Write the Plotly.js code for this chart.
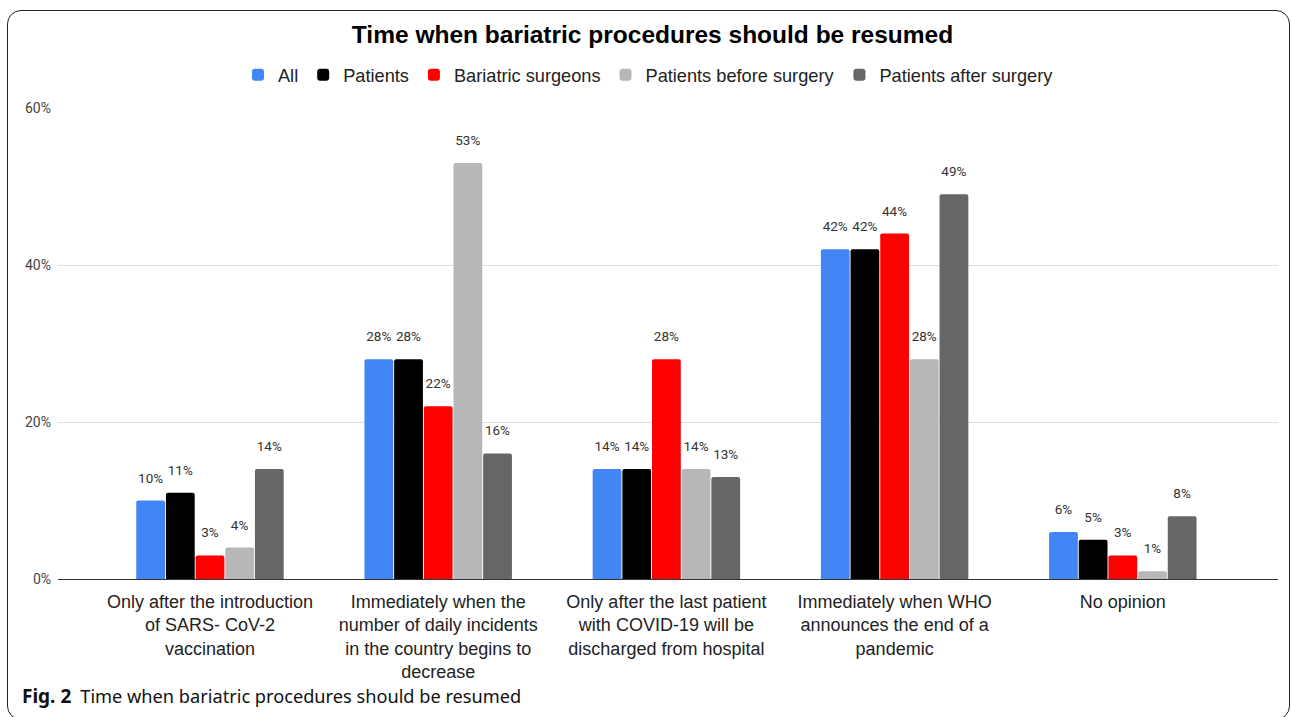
<!DOCTYPE html>
<html>
<head>
<meta charset="utf-8">
<script src="https://cdn.plot.ly/plotly-3.0.1.min.js"></script>
<style>
  html, body { margin:0; padding:0; background:#fff; width:1292px; height:717px; overflow:hidden; }
  #chart { position:absolute; left:0; top:0; width:1292px; height:717px; }
  #frame { position:absolute; left:7px; top:10px; width:1281px; height:708px; border:1px solid #222; border-radius:14px; pointer-events:none; }
  #caption { position:absolute; left:22px; top:686px; line-height:20px; font-family:"Noto Sans","Open Sans",sans-serif; font-size:18.2px; color:#111; white-space:nowrap; }
  #caption b { font-weight:700; font-size:19px; margin-right:9px; }
</style>
</head>
<body>
<div id="chart"></div>
<div id="frame"></div>
<div id="caption"><b>Fig. 2</b>Time when bariatric procedures should be resumed</div>
<script>
const categories = [
  "Only after the introduction<br>of SARS- CoV-2<br>vaccination",
  "Immediately when the<br>number of daily incidents<br>in the country begins to<br>decrease",
  "Only after the last patient<br>with COVID-19 will be<br>discharged from hospital",
  "Immediately when WHO<br>announces the end of a<br>pandemic",
  "No opinion"
];
const seriesNames = ["All", "Patients", "Bariatric surgeons", "Patients before surgery", "Patients after surgery"];
const allValues = [10, 28, 14, 42, 6];
const patientsValues = [11, 28, 14, 42, 5];
const surgeonsValues = [3, 22, 28, 44, 3];
const beforeSurgeryValues = [4, 53, 14, 28, 1];
const afterSurgeryValues = [14, 16, 13, 49, 8];
const yTickValues = [0, 20, 40, 60];
const yTickLabels = ["0%", "20%", "40%", "60%"];

const seriesValues = [allValues, patientsValues, surgeonsValues, beforeSurgeryValues, afterSurgeryValues];
const colors = ["#4285F4", "#000000", "#FF0000", "#B7B7B7", "#666666"];

const traces = seriesNames.map((name, i) => ({
  type: "bar",
  name: name,
  x: categories,
  y: seriesValues[i],
  marker: { color: colors[i], cornerradius: 2 },
  text: seriesValues[i].map(v => "<span style='font-size:13.5px'>" + v + "%</span><br> "),
  textposition: "outside",
  constraintext: "none",
  textfont: { family: "Roboto, Arial, sans-serif", size: 10, color: "#333" },
  cliponaxis: false,
  hoverinfo: "skip"
}));

const layout = {
  width: 1292,
  height: 717,
  margin: { l: 58, r: 14, t: 108, b: 138 },
  paper_bgcolor: "#fff",
  plot_bgcolor: "#fff",
  barmode: "group",
  bargap: 0.35,
  bargroupgap: 0.03,
  font: { family: "Liberation Sans, Arial, sans-serif", color: "#222" },
  title: {
    text: "<b>Time when bariatric procedures should be resumed</b>",
    font: { family: "Liberation Sans, Arial, sans-serif", size: 24.5, color: "#000" },
    xref: "container", x: 652.5 / 1292, xanchor: "center",
    yref: "container", y: 1 - 34 / 717, yanchor: "middle"
  },
  legend: {
    orientation: "h",
    x: 0.484, xanchor: "center",
    yref: "container", y: 1 - 75 / 717, yanchor: "middle",
    font: { family: "Liberation Sans, Arial, sans-serif", size: 18.2, color: "#222" },
    itemwidth: 30,
    traceorder: "normal"
  },
  xaxis: {
    type: "category",
    range: [-0.666, 4.68],
    showgrid: false,
    ticks: "",
    tickfont: { family: "Liberation Sans, Arial, sans-serif", size: 18, color: "#222" },
    ticklabelstandoff: 10,
    showline: false,
    zeroline: false,
    fixedrange: true
  },
  yaxis: {
    range: [0, 60],
    tickvals: yTickValues,
    ticktext: yTickLabels,
    tickfont: { family: "Roboto, Arial, sans-serif", size: 14, color: "#444" },
    gridcolor: "#dcdcdc",
    gridwidth: 1,
    zeroline: true,
    zerolinecolor: "#333",
    zerolinewidth: 1,
    showline: false,
    ticks: "",
    ticklabelstandoff: 6,
    fixedrange: true
  },
  showlegend: true
};

Plotly.newPlot("chart", traces, layout, { displayModeBar: false, staticPlot: true });
</script>
</body>
</html>
